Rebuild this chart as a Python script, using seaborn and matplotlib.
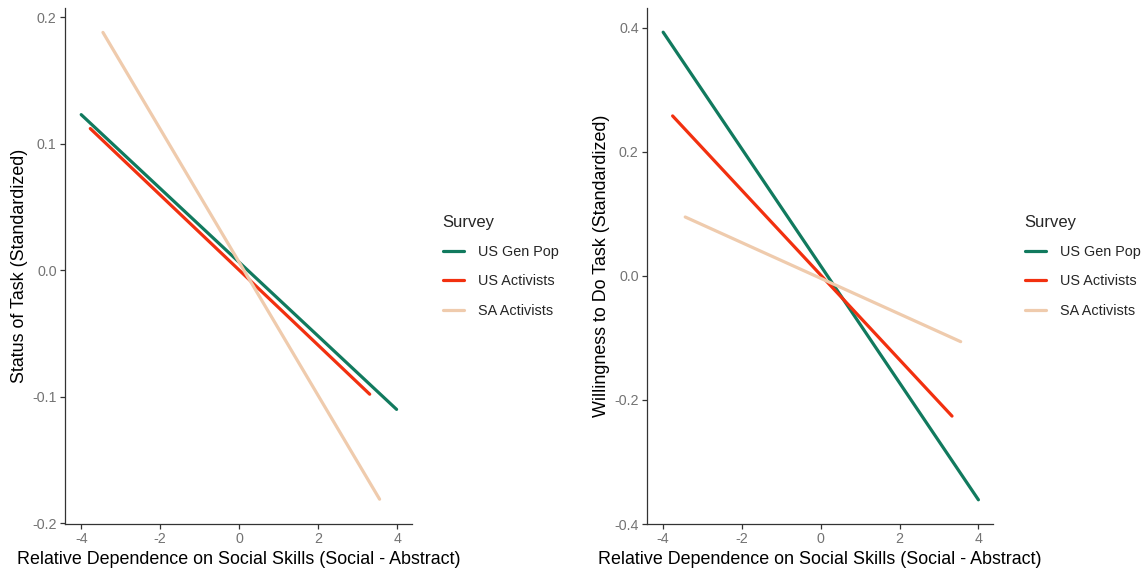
import matplotlib
matplotlib.use("Agg")
import matplotlib.pyplot as plt
import seaborn as sns
import pandas as pd

sns.set_theme(style="white")
plt.rcParams['font.family'] = ['Liberation Sans', 'DejaVu Sans']

surveys = ["US Gen Pop", "US Activists", "SA Activists"]
colors = ["#117A5E", "#F2300F", "#EFCBAD"]

# Left panel: Status of Task (fitted line endpoints)
status_x0 = [-4.00, -3.77, -3.45]
status_x1 = [3.98, 3.30, 3.55]
status_y0 = [0.123, 0.112, 0.188]
status_y1 = [-0.110, -0.098, -0.181]

# Right panel: Willingness to Do Task
will_x0 = [-4.00, -3.76, -3.44]
will_x1 = [4.00, 3.33, 3.55]
will_y0 = [0.393, 0.258, 0.095]
will_y1 = [-0.361, -0.226, -0.106]

xticks = [-4, -2, 0, 2, 4]
status_yticks = [-0.2, -0.1, 0.0, 0.1, 0.2]
will_yticks = [-0.4, -0.2, 0.0, 0.2, 0.4]
xlabel = "Relative Dependence on Social Skills (Social - Abstract)"


def make_df(x0, x1, y0, y1):
    rows = []
    for s, a, b, c, d in zip(surveys, x0, x1, y0, y1):
        rows.append({"x": a, "y": c, "Survey": s})
        rows.append({"x": b, "y": d, "Survey": s})
    return pd.DataFrame(rows)


W, H = 1146, 573
fig = plt.figure(figsize=(W / 100, H / 100), dpi=100)
fig.patch.set_facecolor("white")


def px_axes(x0, x1, ytop, ybot):
    return fig.add_axes([x0 / W, (H - ybot) / H, (x1 - x0) / W, (ybot - ytop) / H])


ax1 = px_axes(65, 412, 8, 524)
ax2 = px_axes(647, 993, 8, 524)

panels = [
    (ax1, make_df(status_x0, status_x1, status_y0, status_y1), status_yticks,
     (-0.2006, 0.2073), "Status of Task (Standardized)", ["-0.2", "-0.1", "0.0", "0.1", "0.2"], 437),
    (ax2, make_df(will_x0, will_x1, will_y0, will_y1), will_yticks,
     (-0.4, 0.432), "Willingness to Do Task (Standardized)", ["-0.4", "-0.2", "0.0", "0.2", "0.4"], 1019),
]

for ax, df, yt, ylim, ylab, ytl, legx in panels:
    sns.lineplot(data=df, x="x", y="y", hue="Survey", hue_order=surveys,
                 palette=colors, linewidth=2.3, ax=ax, legend=True)
    ax.set_xlim(-4.41, 4.37)
    ax.set_ylim(*ylim)
    ax.set_xticks(xticks)
    ax.set_xticklabels([str(v) for v in xticks])
    ax.set_yticks(yt)
    ax.set_yticklabels(ytl)
    for sp in ["top", "right"]:
        ax.spines[sp].set_visible(False)
    for sp in ["left", "bottom"]:
        ax.spines[sp].set_color("#333333")
        ax.spines[sp].set_linewidth(0.9)
    ax.tick_params(axis="both", which="major", direction="out", length=3.5, width=0.9,
                   color="#333333", labelcolor="#737373", labelsize=10.3, pad=2.5,
                   bottom=True, left=True)
    ax.set_xlabel(xlabel, fontsize=12.9, color="black", labelpad=3)
    ax.set_ylabel(ylab, fontsize=12.9, color="black", labelpad=3)
    ax.grid(False)
    handles, labels = ax.get_legend_handles_labels()
    ax.get_legend().remove()
    leg = fig.legend(handles, labels, title="Survey", loc="upper left",
                     bbox_to_anchor=(legx / W, (H - 209) / H), frameon=False,
                     fontsize=10.4, title_fontsize=12, handlelength=1.5,
                     handletextpad=0.95, labelspacing=1.06, borderaxespad=0)
    leg._legend_box.align = "left"

fig.savefig("out.png", dpi=100, facecolor="white")
